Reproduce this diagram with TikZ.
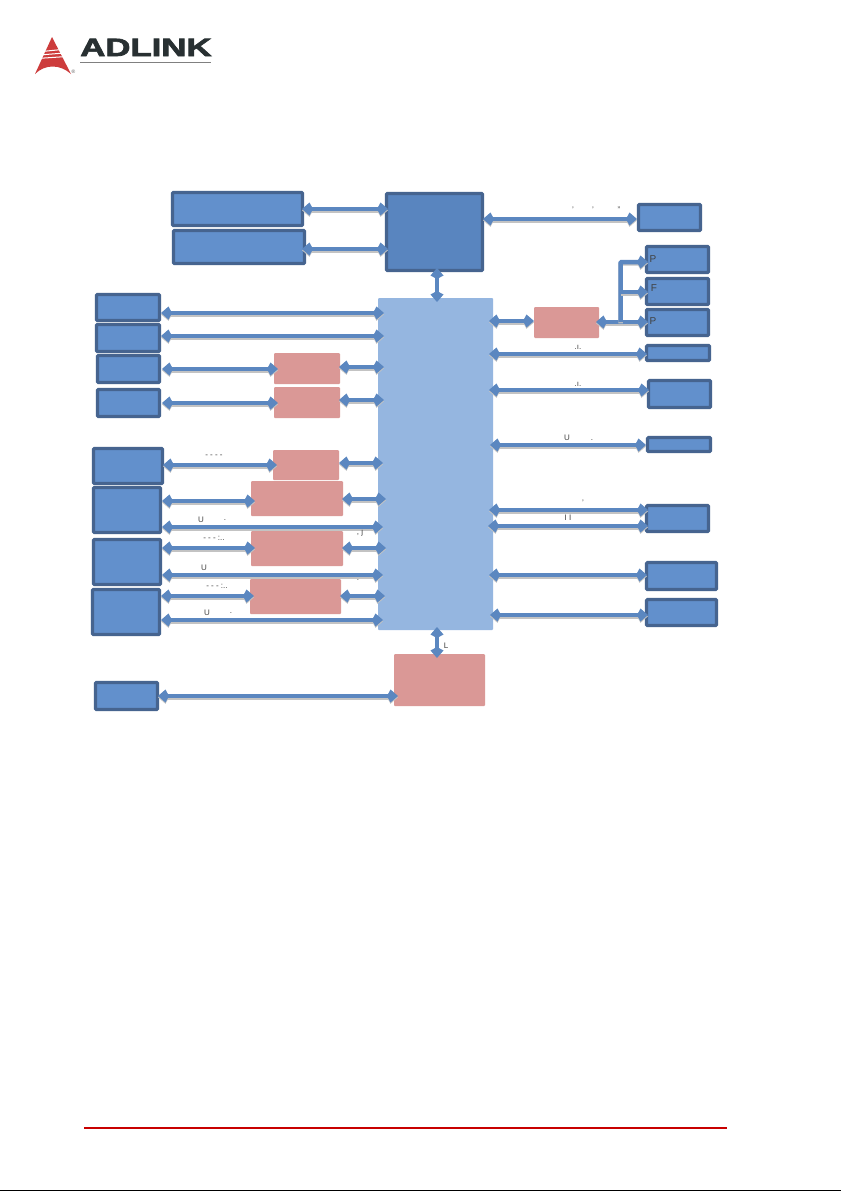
\documentclass[tikz,border=0pt]{standalone}
\usepackage{fontspec}
\setmainfont{Liberation Sans}
\newfontface\logofont[FakeBold=2.5]{Liberation Sans Bold}
\usetikzlibrary{arrows.meta,calc}
\definecolor{boxfill}{RGB}{98,144,204}
\definecolor{boxline}{RGB}{70,100,143}
\definecolor{cpufill}{RGB}{89,133,191}
\definecolor{pchfill}{RGB}{149,182,224}
\definecolor{pinkfill}{RGB}{218,152,150}
\definecolor{linkcol}{RGB}{91,135,192}
\definecolor{shadowcol}{RGB}{195,195,195}
\definecolor{logored}{RGB}{205,60,60}
\definecolor{logodark}{RGB}{40,48,50}
\definecolor{rulered}{RGB}{200,0,0}
\tikzset{
  base/.style={inner sep=0pt,outer sep=0pt,rounded corners=1pt,anchor=center},
  blue box/.style={base,draw=boxline,line width=3.2pt,fill=boxfill},
  cpu box/.style={base,draw=boxline,line width=3.2pt,fill=cpufill},
  pch box/.style={base,fill=pchfill},
  pink box/.style={base,fill=pinkfill},
  shade line/.style={preaction={draw=shadowcol,line width=4.5pt,transform canvas={yshift=-1.3pt}}},
  dbl/.style={draw=linkcol,line width=4.5pt,{Kite[length=11pt,width=13pt,inset=3.5pt]}-{Kite[length=11pt,width=13pt,inset=3.5pt]},shade line},
  dblv/.style={draw=linkcol,line width=4.5pt,{Kite[length=11pt,width=13pt,inset=3.5pt]}-{Kite[length=11pt,width=13pt,inset=3.5pt]}},
  branch/.style={draw=linkcol,line width=4.5pt,-{Kite[length=11pt,width=13pt,inset=3.5pt]},rounded corners=1pt,shade line},
  scrap/.style={font=\fontsize{8}{8}\selectfont,text=black!75,inner sep=0pt}
}
% outer pixel corners x1 y1 x2 y2
\newcommand\bx[6]{\node[#6,minimum width={(#4-#2-3)*1pt},minimum height={(#5-#3-3)*1pt}] (#1) at ({(#2+#4)/2},{(#3+#5)/2}) {};}
\newcommand\fl[6]{\node[#6,minimum width={(#4-#2)*1pt},minimum height={(#5-#3)*1pt}] (#1) at ({(#2+#4)/2},{(#3+#5)/2}) {};}
\newcommand\cn[5]{\draw[dbl,shorten <=#2pt,shorten >=#4pt] (#1 |- 0,#5) -- (#3 |- 0,#5);}
\begin{document}
\begin{tikzpicture}[x=1pt,y=-1pt]
\useasboundingbox (0,0) rectangle (841,1191);
\fill[white] (0,0) rectangle (841,1191);
% logo
\fill[logored] (52,37) -- (71,74) .. controls (60,64) and (45,64) .. (35,74) -- cycle;
\foreach \yy/\xa/\xb in {50.5/44/60,54/42/62,57.5/40/64}{
  \draw[white,line width=1pt] (\xa,\yy+0.8) -- (\xb,\yy-0.8);
}
\node[inner sep=0pt,anchor=base west,text=logodark,xscale=1.39] (logotext) at (80,56) {\fontsize{25}{25}\logofont ADLINK};
\coordinate (logoa) at (80,62.5);
\coordinate (logob) at (211,62.5);
\draw[black!50,line width=0.8pt] (logoa) -- (logob);
\node[inner sep=0pt,text=black!65] (logoreg) at (73.5,71.5) {\fontsize{5}{5}\selectfont ®};
% footer rule and bottom edge
\coordinate (rulea) at (84,1128);
\coordinate (ruleb) at (727,1128);
\draw[rulered,line width=2pt] (rulea) -- (ruleb);
\coordinate (edgea) at (0,1190.5);
\coordinate (edgeb) at (841,1190.5);
\draw[black,line width=1pt] (edgea) -- (edgeb);
% top boxes
\bx{A1}{171}{191}{304}{227}{blue box}
\bx{A2}{172}{229}{306}{265}{blue box}
\bx{CPU}{385}{192}{484}{272}{cpu box}
\fl{PCH}{378}{298}{493}{630}{pch box}
% left column
\bx{L1}{95}{293}{161}{322}{blue box}
\bx{L2}{95}{323}{161}{353}{blue box}
\bx{L3}{96}{354}{161}{384}{blue box}
\bx{L4}{96}{388}{161}{418}{blue box}
\bx{L5}{92}{447}{164}{485}{blue box}
\bx{L6}{92}{486}{162}{534}{blue box}
\bx{L7}{92}{538}{162}{586}{blue box}
\bx{L8}{91}{588}{161}{636}{blue box}
\bx{L9}{94}{681}{159}{711}{blue box}
% pink
\fl{R1}{274}{353}{340}{384}{pink box}
\fl{R2}{274}{387}{340}{418}{pink box}
\fl{R3}{273}{450}{339}{480}{pink box}
\fl{R4}{251}{481}{343}{516}{pink box}
\fl{R5}{251}{531}{343}{566}{pink box}
\fl{R6}{250}{579}{341}{614}{pink box}
\fl{R7}{394}{654}{485}{706}{pink box}
\fl{R8}{534}{307}{599}{338}{pink box}
% right column
\bx{Q0}{637}{203}{702}{232}{blue box}
\bx{Q1}{645}{245}{710}{274}{blue box}
\bx{Q2}{645}{277}{710}{306}{blue box}
\bx{Q3}{645}{308}{710}{337}{blue box}
\bx{Q4}{645}{344}{711}{362}{blue box}
\bx{Q5}{647}{379}{712}{409}{blue box}
\bx{Q6}{646}{436}{712}{453}{blue box}
\bx{Q7}{645}{504}{710}{533}{blue box}
\bx{Q8}{645}{561}{718}{591}{blue box}
\bx{Q9}{645}{598}{718}{627}{blue box}
% connectors
\cn{A1.east}{-0.5}{CPU.west}{-1.5}{209}
\cn{A2.east}{-2.5}{CPU.west}{-1.5}{249}
\draw[dblv,shorten <=-2.5pt,shorten >=-4pt] (CPU.south -| 437,0) -- (PCH.north -| 437,0);
\cn{CPU.east}{0.5}{Q0.west}{1.5}{219}
\cn{L1.east}{1.5}{PCH.west}{-6}{313}
\cn{L2.east}{1.5}{PCH.west}{-6}{336}
\cn{L3.east}{2.5}{R1.west}{-4}{369}
\cn{R1.east}{-1}{PCH.west}{-6}{367}
\cn{L4.east}{2.5}{R2.west}{-4}{403}
\cn{R2.east}{-1}{PCH.west}{-6}{400}
\cn{L5.east}{0.5}{R3.west}{-4}{465}
\cn{R3.east}{0}{PCH.west}{-5}{463}
\cn{L6.east}{1.5}{R4.west}{-4}{501}
\cn{R4.east}{-1}{PCH.west}{-8}{499}
\cn{L6.east}{1.5}{PCH.west}{-5}{527}
\cn{L7.east}{1.5}{R5.west}{-4}{548}
\cn{R5.east}{-1}{PCH.west}{-8}{548}
\cn{L7.east}{1.5}{PCH.west}{-5}{575}
\cn{L8.east}{1.5}{R6.west}{-4}{596}
\cn{R6.east}{-1}{PCH.west}{-7}{596}
\cn{L8.east}{1.5}{PCH.west}{-5}{620}
\cn{L9.east}{0.5}{R7.west}{-4}{696}
\draw[dblv,shorten <=-3pt,shorten >=-4pt] (PCH.south -| 437,0) -- (R7.north -| 437,0);
% right
\cn{PCH.east}{-4}{R8.west}{0}{321}
\cn{R8.east}{-3}{Q3.west}{-1.5}{322}
\coordinate (br) at (620.5,322);
\draw[branch,shorten >=-1.5pt] (br) |- (Q1.west |- 0,262);
\draw[branch,shorten >=-1.5pt] (br |- 0,292) -- (Q2.west |- 0,292);
\cn{PCH.east}{-4}{Q4.west}{-0.5}{354}
\cn{PCH.east}{-4}{Q5.west}{-0.5}{390}
\cn{PCH.east}{-3}{Q6.west}{1.5}{445}
\cn{PCH.east}{-4}{Q7.west}{-1.5}{510}
\cn{PCH.east}{-5}{Q7.west}{-1.5}{526}
\cn{PCH.east}{-4}{Q8.west}{-0.5}{575}
\cn{PCH.east}{-3}{Q9.west}{-1.5}{615}
% surviving label scraps
\node[scrap,font=\fontsize{10}{10}\selectfont] (tp1) at (653,259) {P};
\node[scrap,font=\fontsize{10}{10}\selectfont] (tp2) at (654,288) {F};
\node[scrap,font=\fontsize{10}{10}\selectfont] (tp3) at (653,321) {P};
\node[scrap] (tu1) at (567,438) {U};
\node[scrap] (td1) at (592,440) {.};
\node[scrap] (tu2) at (568,518) {I I};
\node[scrap] (tq1) at (583,503) {'};
\node[scrap] (tu3) at (201,520) {U};
\node[scrap] (td2) at (225,520) {.};
\node[scrap] (tu4) at (204,568) {U};
\node[scrap] (tu5) at (207,613) {U};
\node[scrap] (td3) at (231,613) {.};
\node[scrap] (tn1) at (214,456) {- - - -};
\node[scrap] (tn2) at (214,538) {- - - :..};
\node[scrap] (tn3) at (217,586) {- - - :..};
\node[scrap] (tn4) at (578,347) {.ı.};
\node[scrap] (tn5) at (578,384) {.ı.};
\node[scrap] (tn6) at (573,210) {'};
\node[scrap] (tn7) at (593,210) {'};
\node[scrap] (tn8) at (619,210) {''};
\node[scrap] (tn9) at (446,646) {L};
\node[scrap] (tn10) at (360,533) {, ȷ};
\node[scrap] (tn11) at (358,580) {.};
\end{tikzpicture}
\end{document}
